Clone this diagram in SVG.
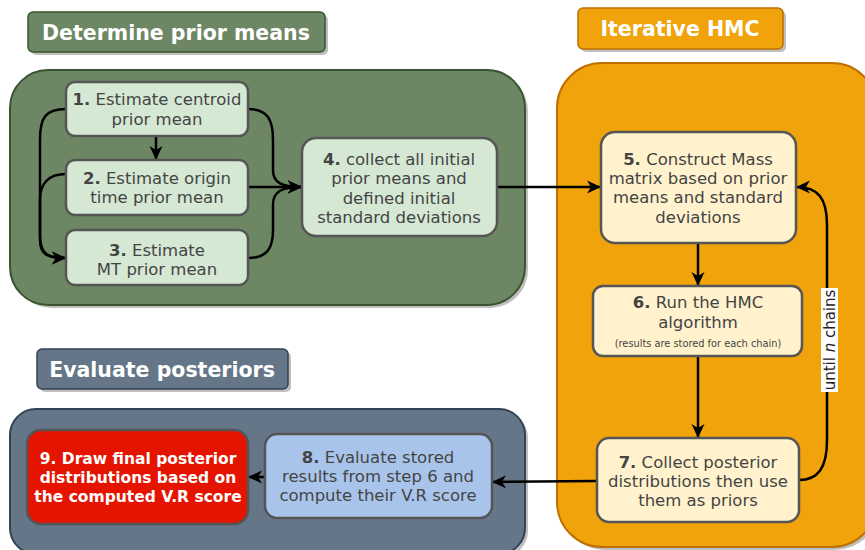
<svg xmlns="http://www.w3.org/2000/svg" width="865" height="550" viewBox="0 0 865 550">
<style>
text{font-family:"DejaVu Sans","Liberation Sans",sans-serif;}
.t{font-size:16.5px;fill:#444;text-anchor:middle;}
.b{font-weight:bold;}
.title{font-size:20.5px;font-weight:bold;fill:#fff;text-anchor:middle;}
.node{stroke:#555;stroke-width:2.5;}
.g{fill:#d5e8d4;}
.y{fill:#fff2cc;}
.bl{fill:#a9c4eb;}
.r{fill:#e51400;}
.sh{fill:#000;opacity:0.25;}
.c{fill:none;stroke:#000;stroke-width:2.5;}
</style>
<defs>
<marker id="arr" markerUnits="userSpaceOnUse" markerWidth="15" markerHeight="15" viewBox="0 0 15 15" refX="14" refY="7.5" orient="auto">
<path d="M0,1 L14,7.5 L0,14 L4,7.5 z" fill="#000"/>
</marker>
</defs>

<g id="container-prior">
<rect x="13" y="73" width="515" height="235" rx="38" class="sh"/>
<rect x="10" y="70" width="515" height="235" rx="38" fill="#6d8764" stroke="#3a5431" stroke-width="2"/>
</g>
<g id="container-hmc">
<rect x="560" y="66" width="320" height="484" rx="45" class="sh"/>
<rect x="557" y="63" width="320" height="484" rx="45" fill="#f0a30a" stroke="#bd7000" stroke-width="2"/>
</g>
<g id="container-eval">
<rect x="13" y="412" width="515" height="145" rx="26" class="sh"/>
<rect x="10" y="409" width="515" height="145" rx="26" fill="#647687" stroke="#314354" stroke-width="2"/>
</g>

<g id="title-prior">
<rect x="31" y="15" width="297" height="40" rx="5" class="sh"/>
<rect x="28" y="12" width="297" height="40" rx="5" fill="#6d8764" stroke="#3a5431" stroke-width="1.5"/>
<text x="176" y="40" class="title">Determine prior means</text>
</g>
<g id="title-hmc">
<rect x="581" y="11" width="205" height="41" rx="5" class="sh"/>
<rect x="578" y="8" width="205" height="41" rx="5" fill="#f0a30a" stroke="#bd7000" stroke-width="1.5"/>
<text x="680" y="36" class="title">Iterative HMC</text>
</g>
<g id="title-eval">
<rect x="40" y="352" width="251" height="40" rx="5" class="sh"/>
<rect x="37" y="349" width="251" height="40" rx="5" fill="#647687" stroke="#314354" stroke-width="1.5"/>
<text x="162" y="377" class="title">Evaluate posteriors</text>
</g>

<g id="connectors">
<path class="c" d="M156,136 L156,160" marker-end="url(#arr)"/>
<path class="c" d="M66,109 C45,109 40,118 40,140 L40,235 C40,255 48,258 66,258" marker-end="url(#arr)"/>
<path class="c" d="M66,174 C48,174 40,184 40,200 L40,240 C40,255 48,258 66,258" marker-end="url(#arr)"/>
<path class="c" d="M248,109 C268,109 273,120 273,140 L273,170 C273,183 282,187 302,187" marker-end="url(#arr)"/>
<path class="c" d="M248,187 L302,187" marker-end="url(#arr)"/>
<path class="c" d="M248,258 C268,258 273,247 273,230 L273,205 C273,191 282,187 302,187" marker-end="url(#arr)"/>
<path class="c" d="M497,187 L601,187" marker-end="url(#arr)"/>
<path class="c" d="M698,243 L698,286" marker-end="url(#arr)"/>
<path class="c" d="M698,356 L698,438" marker-end="url(#arr)"/>
<path class="c" d="M799,480 C818,480 827,468 827,440 L827,225 C827,198 818,187 796,187" marker-end="url(#arr)"/>
<path class="c" d="M597,481 L492,482" marker-end="url(#arr)"/>
<path class="c" d="M265,477 L248,477" marker-end="url(#arr)"/>
<rect x="821" y="288" width="17" height="104" fill="#fff"/>
<text transform="translate(835,340) rotate(-90)" style="font-size:15px;fill:#222;text-anchor:middle">until <tspan font-style="italic">n</tspan> chains</text>
</g>

<g id="node1">
<rect x="66" y="82" width="182" height="54" rx="9" class="node g"/>
<text x="157" y="105" class="t"><tspan class="b">1.</tspan> Estimate centroid</text>
<text x="157" y="125" class="t">prior mean</text>
</g>
<g id="node2">
<rect x="66" y="160" width="182" height="55" rx="9" class="node g"/>
<text x="157" y="184" class="t"><tspan class="b">2.</tspan> Estimate origin</text>
<text x="157" y="203" class="t">time prior mean</text>
</g>
<g id="node3">
<rect x="66" y="230" width="182" height="55" rx="9" class="node g"/>
<text x="157" y="256" class="t"><tspan class="b">3.</tspan> Estimate</text>
<text x="157" y="275" class="t">MT prior mean</text>
</g>
<g id="node4">
<rect x="302" y="138" width="195" height="98" rx="14" class="node g"/>
<text x="399" y="165" class="t"><tspan class="b">4.</tspan> collect all initial</text>
<text x="399" y="184" class="t">prior means and</text>
<text x="399" y="204" class="t">defined initial</text>
<text x="399" y="223" class="t">standard deviations</text>
</g>
<g id="node5">
<rect x="601" y="132" width="195" height="111" rx="14" class="node y"/>
<text x="698" y="165" class="t"><tspan class="b">5.</tspan> Construct Mass</text>
<text x="698" y="184" class="t">matrix based on prior</text>
<text x="698" y="203" class="t">means and standard</text>
<text x="698" y="223" class="t">deviations</text>
</g>
<g id="node6">
<rect x="593" y="286" width="209" height="70" rx="10" class="node y"/>
<text x="698" y="308" class="t"><tspan class="b">6.</tspan> Run the HMC</text>
<text x="698" y="328" class="t">algorithm</text>
<text x="698" y="347" class="t" style="font-size:9.8px">(results are stored for each chain)</text>
</g>
<g id="node7">
<rect x="597" y="438" width="202" height="84" rx="12" class="node y"/>
<text x="698" y="468" class="t"><tspan class="b">7.</tspan> Collect posterior</text>
<text x="698" y="487" class="t">distributions then use</text>
<text x="698" y="506" class="t">them as priors</text>
</g>
<g id="node8">
<rect x="265" y="434" width="227" height="84" rx="12" class="node bl"/>
<text x="378" y="463" class="t"><tspan class="b">8.</tspan> Evaluate stored</text>
<text x="378" y="482" class="t">results from step 6 and</text>
<text x="378" y="501" class="t">compute their V.R score</text>
</g>
<g id="node9">
<rect x="27" y="430" width="221" height="94" rx="14" class="node r"/>
<text x="138" y="464" class="t b" style="font-size:15.5px;fill:#fff">9. Draw final posterior</text>
<text x="138" y="483" class="t b" style="font-size:15.5px;fill:#fff">distributions based on</text>
<text x="138" y="502" class="t b" style="font-size:15.5px;fill:#fff">the computed V.R score</text>
</g>
</svg>
